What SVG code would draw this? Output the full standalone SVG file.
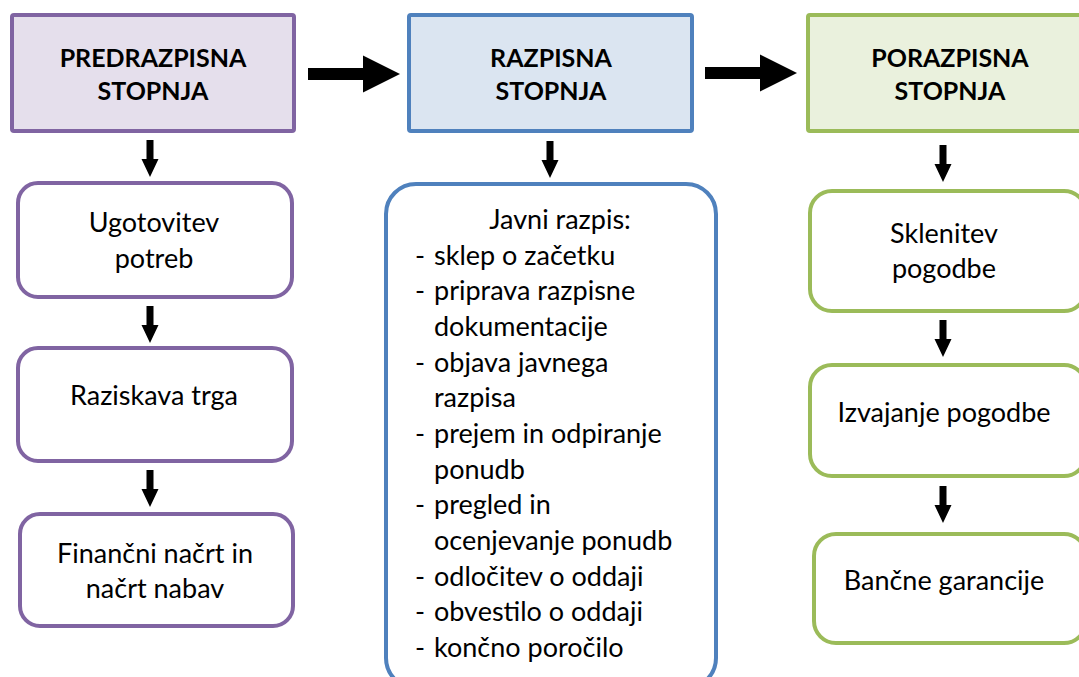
<svg xmlns="http://www.w3.org/2000/svg" width="1079" height="677" viewBox="0 0 1079 677">
  <style>
    .hdr { stroke-width: 4; }
    .box { fill: #ffffff; stroke-width: 4; }
    .purple { stroke: #8064A2; }
    .blue { stroke: #4F81BD; }
    .green { stroke: #9BBB59; }
    .t { font-family: Lato, "Liberation Sans", sans-serif; font-size: 27px; fill: #000; }
    .c { text-anchor: middle; }
    .b { font-weight: 700; font-size: 25px; }
    .arrow { fill: #000; }
  </style>
  <defs>
    <!-- small downward arrow, tip at (0,0) -->
    <polygon id="down" points="-3.5,-37 3.5,-37 3.5,-18 8.5,-18 0,0 -8.5,-18 -3.5,-18"/>
    <!-- large rightward arrow, tip at (0,0) -->
    <polygon id="right" points="-92,-6 -37,-6 -37,-18.5 0,0 -37,18.5 -37,6 -92,6"/>
  </defs>

  <!-- stage headers -->
  <g id="hdr-pre">
    <rect class="hdr purple" x="12" y="15" width="282" height="116" rx="2" fill="#E5DFEC"/>
    <text class="t b c" x="153" y="67">PREDRAZPISNA</text>
    <text class="t b c" x="153" y="100">STOPNJA</text>
  </g>
  <g id="hdr-razpis">
    <rect class="hdr blue" x="409" y="15" width="283" height="116" rx="2" fill="#DBE5F1"/>
    <text class="t b c" x="551" y="67">RAZPISNA</text>
    <text class="t b c" x="551" y="100">STOPNJA</text>
  </g>
  <g id="hdr-po">
    <rect class="hdr green" x="808" y="15" width="284" height="116" rx="2" fill="#EAF1DD"/>
    <text class="t b c" x="950" y="67">PORAZPISNA</text>
    <text class="t b c" x="950" y="100">STOPNJA</text>
  </g>

  <!-- pre-tender steps -->
  <g id="ugotovitev">
    <rect class="box purple" x="18" y="183" width="274" height="114" rx="20"/>
    <text class="t c" x="154" y="232">Ugotovitev</text>
    <text class="t c" x="154" y="268">potreb</text>
  </g>
  <g id="raziskava">
    <rect class="box purple" x="18" y="348" width="274" height="113" rx="20"/>
    <text class="t c" x="154" y="405">Raziskava trga</text>
  </g>
  <g id="financni">
    <rect class="box purple" x="20" y="514" width="273" height="112" rx="20"/>
    <text class="t c" x="155" y="563">Finančni načrt in</text>
    <text class="t c" x="155" y="598">načrt nabav</text>
  </g>

  <!-- tender procedure -->
  <g id="javni-razpis">
    <rect class="box blue" x="386" y="184" width="330" height="504" rx="30"/>
    <text class="t c" x="560" y="229">Javni razpis:</text>
    <g class="t">
      <text x="415" y="265">-</text><text x="434" y="265">sklep o začetku</text>
      <text x="415" y="300">-</text><text x="434" y="300">priprava razpisne</text>
      <text x="434" y="336">dokumentacije</text>
      <text x="415" y="372">-</text><text x="434" y="372">objava javnega</text>
      <text x="434" y="407">razpisa</text>
      <text x="415" y="443">-</text><text x="434" y="443">prejem in odpiranje</text>
      <text x="434" y="479">ponudb</text>
      <text x="415" y="514">-</text><text x="434" y="514">pregled in</text>
      <text x="434" y="550">ocenjevanje ponudb</text>
      <text x="415" y="586">-</text><text x="434" y="586">odločitev o oddaji</text>
      <text x="415" y="621">-</text><text x="434" y="621">obvestilo o oddaji</text>
      <text x="415" y="657">-</text><text x="434" y="657">končno poročilo</text>
    </g>
  </g>

  <!-- post-tender steps -->
  <g id="sklenitev">
    <rect class="box green" x="810" y="191" width="276" height="120" rx="22"/>
    <text class="t c" x="944" y="243">Sklenitev</text>
    <text class="t c" x="944" y="278">pogodbe</text>
  </g>
  <g id="izvajanje">
    <rect class="box green" x="810" y="365" width="276" height="111" rx="22"/>
    <text class="t c" x="944" y="422">Izvajanje pogodbe</text>
  </g>
  <g id="garancije">
    <rect class="box green" x="814" y="534" width="272" height="109" rx="22"/>
    <text class="t c" x="944" y="590">Bančne garancije</text>
  </g>

  <!-- connectors -->
  <g id="connectors" class="arrow">
    <use href="#right" x="400" y="74"/>
    <use href="#right" x="797" y="73"/>
    <use href="#down" x="150" y="177"/>
    <use href="#down" x="150" y="343"/>
    <use href="#down" x="150" y="507"/>
    <use href="#down" x="550" y="178"/>
    <use href="#down" x="943" y="182"/>
    <use href="#down" x="943" y="357"/>
    <use href="#down" x="943" y="523"/>
  </g>
</svg>
